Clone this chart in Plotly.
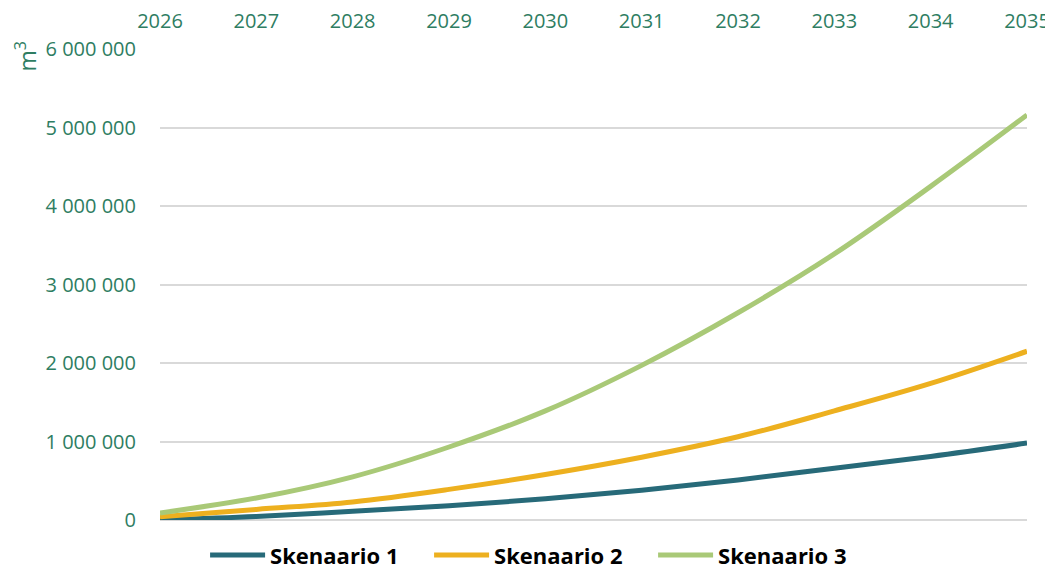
import plotly.graph_objects as go

years = [2026, 2027, 2028, 2029, 2030, 2031, 2032, 2033, 2034, 2035]
skenaario_1 = [0, 45000, 110000, 180000, 270000, 380000, 510000, 660000, 810000, 980000]
skenaario_2 = [40000, 135000, 230000, 390000, 580000, 800000, 1060000, 1390000, 1740000, 2150000]
skenaario_3 = [90000, 280000, 550000, 930000, 1390000, 1970000, 2640000, 3390000, 4250000, 5160000]

series_names = ["Skenaario 1", "Skenaario 2", "Skenaario 3"]
colors = ["#276a79", "#edb01f", "#a9c977"]
tick_color = "#2e7d62"

fig = go.Figure()

for name, vals, col in zip(series_names, [skenaario_1, skenaario_2, skenaario_3], colors):
    fig.add_trace(go.Scatter(x=years, y=vals, mode="lines", name=name,
                             line=dict(color=col, width=5, shape="spline", smoothing=1.0)))

# page body has an 8px margin, so the figure is a bit smaller than the window
fig.update_layout(
    width=1045, height=562,
    template="plotly_white",
    paper_bgcolor="white", plot_bgcolor="white",
    margin=dict(l=152, r=26, t=41, b=50, autoexpand=False),
    separators=", ",
    font=dict(family="Open Sans, Noto Sans, sans-serif", color=tick_color),
    showlegend=True,
    legend=dict(orientation="h", x=0.052, xanchor="left", y=-0.03, yanchor="top",
                font=dict(size=22, color="black", family="Open Sans, sans-serif", weight="bold"),
                itemwidth=55, entrywidth=154, entrywidthmode="pixels"),
)

fig.update_xaxes(side="top", range=[2026, 2035], tickvals=years, showgrid=False,
                 zeroline=False, showline=False, ticks="outside", ticklen=12,
                 tickcolor="rgba(0,0,0,0)",
                 tickfont=dict(size=20, color=tick_color))
fig.update_yaxes(range=[0, 6000000], dtick=1000000, tickformat=",d", showgrid=True,
                 gridcolor="#d9d9d9", gridwidth=1.5, zeroline=True, zerolinecolor="#d9d9d9",
                 zerolinewidth=1.5, ticks="outside", ticklen=19, tickcolor="rgba(0,0,0,0)",
                 tickfont=dict(size=20, color=tick_color))

fig.add_annotation(text="m<sup>3</sup>", xref="paper", yref="paper", x=-0.154, y=0.985,
                   showarrow=False, textangle=-90, xanchor="center", yanchor="middle",
                   font=dict(size=23, color=tick_color))

fig.write_html("out.html")
